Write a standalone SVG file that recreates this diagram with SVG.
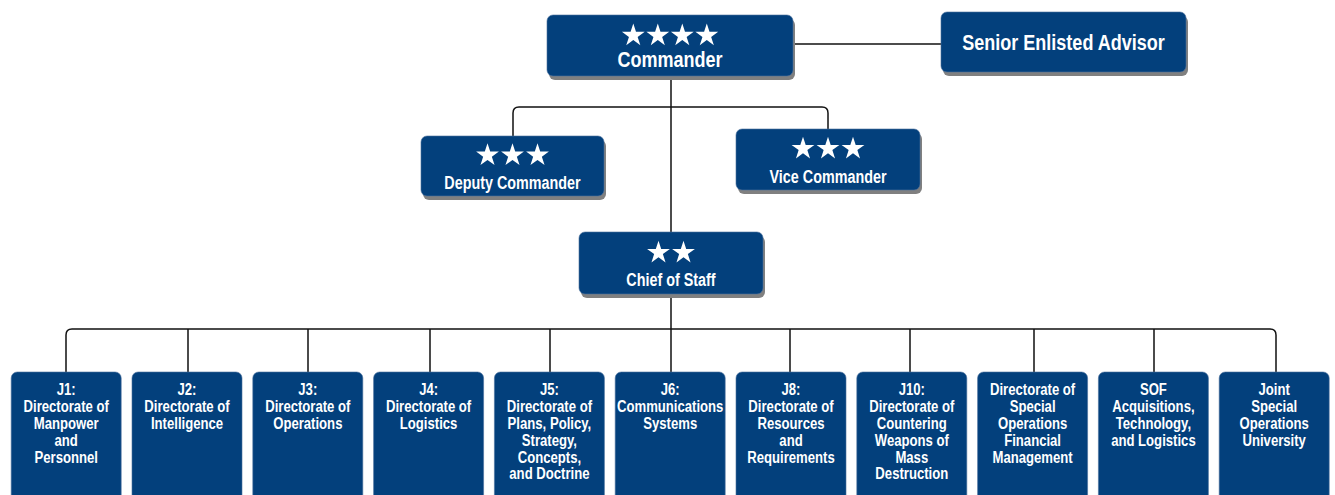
<svg xmlns="http://www.w3.org/2000/svg" xmlns:xlink="http://www.w3.org/1999/xlink" width="1335" height="495" viewBox="0 0 1335 495">
<style>
.box{fill:#03407C;stroke:#4a6f9c;stroke-width:0.6}
.sh{fill:#808080}
.ln{fill:none;stroke:#111;stroke-width:1.5}
text{font-family:"Liberation Sans",Arial,sans-serif;font-weight:bold;fill:#fff;text-anchor:middle}
.big{font-size:22px}
.mid{font-size:17.5px}
.sm{font-size:16px}
.star{fill:#fff}
</style>
<defs>
<polygon id="star" class="star" points="0,-12 2.7,-3.71 11.41,-3.71 4.36,1.42 7.05,9.71 0,4.59 -7.05,9.71 -4.36,1.42 -11.41,-3.71 -2.7,-3.71"/>
</defs>
<rect width="1335" height="495" fill="#fff"/>
<g id="connectors">
<path class="ln" d="M793 44H941"/>
<path class="ln" d="M671 76V232"/>
<path class="ln" d="M513 136V113Q513 107 519 107H822Q828 107 828 113V129"/>
<path class="ln" d="M671 294V372"/>
<path class="ln" d="M66 372V335Q66 329 72 329H1270Q1276 329 1276 335V372"/>
<path class="ln" d="M188 329V372M308 329V372M430 329V372M550 329V372M790 329V372M910 329V372M1034 329V372M1154 329V372"/>
</g>
<g id="commander">
<rect class="sh" x="549" y="19" width="246" height="61" rx="6"/>
<rect class="box" x="547" y="15" width="246" height="61" rx="6"/>
<use xlink:href="#star" x="633.3" y="35.5"/><use xlink:href="#star" x="657.8" y="35.5"/><use xlink:href="#star" x="682.3" y="35.5"/><use xlink:href="#star" x="706.8" y="35.5"/>
<text class="big" transform="matrix(0.82 0 0 1 670 0)" x="0" y="67">Commander</text>
</g>
<g id="senior-enlisted-advisor">
<rect class="sh" x="943" y="16" width="245" height="60" rx="6"/>
<rect class="box" x="941" y="12" width="245" height="60" rx="6"/>
<text class="big" transform="matrix(0.82 0 0 1 1063.5 0)" x="0" y="50">Senior Enlisted Advisor</text>
</g>
<g id="deputy-commander">
<rect class="sh" x="423" y="140" width="183" height="60" rx="6"/>
<rect class="box" x="421" y="136" width="183" height="60" rx="6"/>
<use xlink:href="#star" x="487.5" y="155.3"/><use xlink:href="#star" x="512.5" y="155.3"/><use xlink:href="#star" x="537.5" y="155.3"/>
<text class="mid" transform="matrix(0.82 0 0 1 512.5 0)" x="0" y="189">Deputy Commander</text>
</g>
<g id="vice-commander">
<rect class="sh" x="738" y="133" width="184" height="61" rx="6"/>
<rect class="box" x="736" y="129" width="184" height="61" rx="6"/>
<use xlink:href="#star" x="803" y="148.7"/><use xlink:href="#star" x="828" y="148.7"/><use xlink:href="#star" x="853" y="148.7"/>
<text class="mid" transform="matrix(0.82 0 0 1 828 0)" x="0" y="183">Vice Commander</text>
</g>
<g id="chief-of-staff">
<rect class="sh" x="581" y="236" width="184" height="62" rx="6"/>
<rect class="box" x="579" y="232" width="184" height="62" rx="6"/>
<use xlink:href="#star" x="658.5" y="252.7"/><use xlink:href="#star" x="683.5" y="252.7"/>
<text class="mid" transform="matrix(0.82 0 0 1 671 0)" x="0" y="286">Chief of Staff</text>
</g>
<g id="j1">
<rect class="box" x="11.2" y="372" width="110" height="140" rx="6"/>
<text class="sm" transform="matrix(0.82 0 0 1 66.2 0)" x="0" y="395"><tspan x="0">J1:</tspan><tspan x="0" dy="16.9">Directorate of</tspan><tspan x="0" dy="16.9">Manpower</tspan><tspan x="0" dy="16.9">and</tspan><tspan x="0" dy="16.9">Personnel</tspan></text>
</g>
<g id="j2">
<rect class="box" x="132" y="372" width="110" height="140" rx="6"/>
<text class="sm" transform="matrix(0.82 0 0 1 187 0)" x="0" y="395"><tspan x="0">J2:</tspan><tspan x="0" dy="16.9">Directorate of</tspan><tspan x="0" dy="16.9">Intelligence</tspan></text>
</g>
<g id="j3">
<rect class="box" x="252.8" y="372" width="110" height="140" rx="6"/>
<text class="sm" transform="matrix(0.82 0 0 1 307.8 0)" x="0" y="395"><tspan x="0">J3:</tspan><tspan x="0" dy="16.9">Directorate of</tspan><tspan x="0" dy="16.9">Operations</tspan></text>
</g>
<g id="j4">
<rect class="box" x="373.6" y="372" width="110" height="140" rx="6"/>
<text class="sm" transform="matrix(0.82 0 0 1 428.6 0)" x="0" y="395"><tspan x="0">J4:</tspan><tspan x="0" dy="16.9">Directorate of</tspan><tspan x="0" dy="16.9">Logistics</tspan></text>
</g>
<g id="j5">
<rect class="box" x="494.4" y="372" width="110" height="140" rx="6"/>
<text class="sm" transform="matrix(0.82 0 0 1 549.4 0)" x="0" y="395"><tspan x="0">J5:</tspan><tspan x="0" dy="16.9">Directorate of</tspan><tspan x="0" dy="16.9">Plans, Policy,</tspan><tspan x="0" dy="16.9">Strategy,</tspan><tspan x="0" dy="16.9">Concepts,</tspan><tspan x="0" dy="16.9">and Doctrine</tspan></text>
</g>
<g id="j6">
<rect class="box" x="615.2" y="372" width="110" height="140" rx="6"/>
<text class="sm" transform="matrix(0.82 0 0 1 670.2 0)" x="0" y="395"><tspan x="0">J6:</tspan><tspan x="0" dy="16.9">Communications</tspan><tspan x="0" dy="16.9">Systems</tspan></text>
</g>
<g id="j8">
<rect class="box" x="736" y="372" width="110" height="140" rx="6"/>
<text class="sm" transform="matrix(0.82 0 0 1 791 0)" x="0" y="395"><tspan x="0">J8:</tspan><tspan x="0" dy="16.9">Directorate of</tspan><tspan x="0" dy="16.9">Resources</tspan><tspan x="0" dy="16.9">and</tspan><tspan x="0" dy="16.9">Requirements</tspan></text>
</g>
<g id="j10">
<rect class="box" x="856.8" y="372" width="110" height="140" rx="6"/>
<text class="sm" transform="matrix(0.82 0 0 1 911.8 0)" x="0" y="395"><tspan x="0">J10:</tspan><tspan x="0" dy="16.9">Directorate of</tspan><tspan x="0" dy="16.9">Countering</tspan><tspan x="0" dy="16.9">Weapons of</tspan><tspan x="0" dy="16.9">Mass</tspan><tspan x="0" dy="16.9">Destruction</tspan></text>
</g>
<g id="dsofm">
<rect class="box" x="977.6" y="372" width="110" height="140" rx="6"/>
<text class="sm" transform="matrix(0.82 0 0 1 1032.6 0)" x="0" y="395"><tspan x="0">Directorate of</tspan><tspan x="0" dy="16.9">Special</tspan><tspan x="0" dy="16.9">Operations</tspan><tspan x="0" dy="16.9">Financial</tspan><tspan x="0" dy="16.9">Management</tspan></text>
</g>
<g id="sof-atl">
<rect class="box" x="1098.4" y="372" width="110" height="140" rx="6"/>
<text class="sm" transform="matrix(0.82 0 0 1 1153.4 0)" x="0" y="395"><tspan x="0">SOF</tspan><tspan x="0" dy="16.9">Acquisitions,</tspan><tspan x="0" dy="16.9">Technology,</tspan><tspan x="0" dy="16.9">and Logistics</tspan></text>
</g>
<g id="jsou">
<rect class="box" x="1219.2" y="372" width="110" height="140" rx="6"/>
<text class="sm" transform="matrix(0.82 0 0 1 1274.2 0)" x="0" y="395"><tspan x="0">Joint</tspan><tspan x="0" dy="16.9">Special</tspan><tspan x="0" dy="16.9">Operations</tspan><tspan x="0" dy="16.9">University</tspan></text>
</g>
</svg>
